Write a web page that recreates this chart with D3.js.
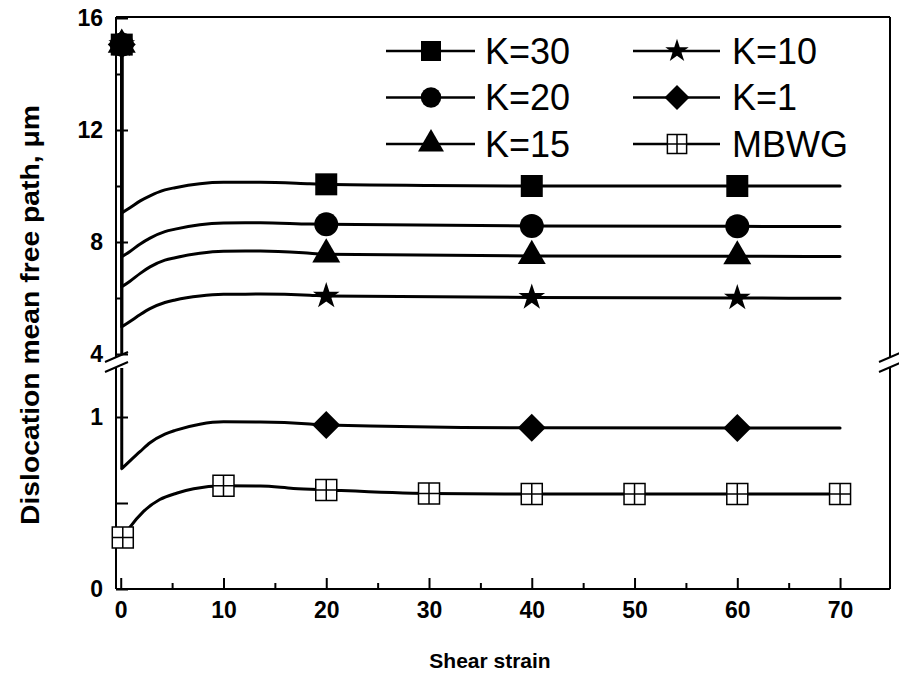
<!DOCTYPE html>
<html>
<head>
<meta charset="utf-8">
<script src="https://cdn.jsdelivr.net/npm/d3@7"></script>
<style>
  body { margin: 0; background: #fff; }
  svg { display: block; font-family: Arial, "Liberation Sans", sans-serif; }
  .tick text { font-weight: bold; font-size: 23px; fill: #000; }
  .tick line { stroke: #000; stroke-width: 2; }
</style>
</head>
<body>
<script>
// ---- data ----
const xMajor = [0, 10, 20, 30, 40, 50, 60, 70];
const xMinor = [5, 15, 25, 35, 45, 55, 65];
const yUpperMajor = [4, 8, 12, 16];
const yUpperMinor = [6, 10, 14];
const yLowerMajor = [0, 1];
const yLowerMinor = [0.5];

const seriesNames = ["K=30", "K=20", "K=15", "K=10", "K=1", "MBWG"];
const seriesSymbols = ["square", "circle", "triangle", "star", "diamond", "box"];

const k30Line = [[0.1, 15.05], [0.1, 9.04], [0.9, 9.22], [1.9, 9.47], [2.85, 9.65], [4.3, 9.86], [5.3, 9.94], [7.7, 10.08], [10, 10.13], [13.6, 10.13], [18.4, 10.08], [20, 10.06], [30, 10.02], [40, 10.0], [60, 10.0], [70, 10.0]];
const k20Line = [[0.1, 15.05], [0.1, 7.47], [0.9, 7.66], [1.9, 7.93], [2.85, 8.14], [4.3, 8.37], [5.3, 8.46], [7.7, 8.62], [10, 8.68], [13.6, 8.69], [18.4, 8.64], [20, 8.63], [40, 8.57], [60, 8.56], [70, 8.55]];
const k15Line = [[0.1, 15.05], [0.1, 6.40], [0.9, 6.60], [1.9, 6.88], [2.85, 7.11], [4.3, 7.35], [5.3, 7.44], [7.7, 7.60], [10, 7.67], [13.6, 7.68], [18.4, 7.60], [20, 7.56], [40, 7.50], [60, 7.49], [70, 7.48]];
const k10Line = [[0.1, 15.05], [0.1, 4.97], [0.9, 5.16], [1.9, 5.41], [2.85, 5.62], [4.3, 5.84], [5.3, 5.93], [7.7, 6.07], [10, 6.13], [13.6, 6.14], [18.4, 6.10], [20, 6.07], [40, 6.02], [60, 6.0], [70, 5.99]];
const k1Line = [[0.1, 15.05], [0.1, 0.70], [0.9, 0.745], [1.9, 0.80], [2.85, 0.85], [4.3, 0.90], [5.3, 0.922], [7.7, 0.958], [10, 0.972], [13.6, 0.971], [18.4, 0.96], [20, 0.953], [40, 0.937], [60, 0.936], [70, 0.936]];
const mbwgLine = [[0.2, 0.30], [0.9, 0.36], [2.2, 0.45], [3.8, 0.52], [5.5, 0.558], [7.1, 0.583], [10, 0.60], [13.6, 0.599], [16.8, 0.585], [20, 0.576], [30, 0.555], [40, 0.552], [50, 0.552], [60, 0.552], [70, 0.552]];

const k30Marks = [[0.1, 15.05], [20, 10.06], [40, 10.0], [60, 10.0]];
const k20Marks = [[0.1, 15.05], [20, 8.63], [40, 8.57], [60, 8.56]];
const k15Marks = [[0.1, 15.05], [20, 7.56], [40, 7.50], [60, 7.49]];
const k10Marks = [[0.1, 15.05], [20, 6.07], [40, 6.02], [60, 6.0]];
const k1Marks = [[0.1, 15.05], [20, 0.953], [40, 0.937], [60, 0.936]];
const mbwgMarks = [[0.2, 0.30], [10, 0.60], [20, 0.576], [30, 0.555], [40, 0.552], [50, 0.552], [60, 0.552], [70, 0.552]];

const lines = [k30Line, k20Line, k15Line, k10Line, k1Line, mbwgLine];
const marks = [k30Marks, k20Marks, k15Marks, k10Marks, k1Marks, mbwgMarks];

// ---- layout ----
const W = 899, H = 679;
const L = 116, R = 890;
const breakHi = 357, breakLo = 367;

const x = d3.scaleLinear().domain([-0.46, 74.86]).range([L, R]);
const yUp = d3.scaleLinear().domain([4, 16]).range([354, 18]);
const yLo = d3.scaleLinear().domain([0, 1]).range([589, 417]);
const TOP = yUp(16) - 1, BOT = yLo(0);
const yOf = v => v >= 4 ? yUp(v) : yLo(v);

// box with a cross inside (MBWG marker)
const symbolBoxCross = {
  draw(ctx, size) {
    const s = Math.sqrt(size) / 2;
    ctx.moveTo(-s, -s); ctx.lineTo(s, -s); ctx.lineTo(s, s); ctx.lineTo(-s, s); ctx.closePath();
    ctx.moveTo(0, -s); ctx.lineTo(0, s);
    ctx.moveTo(-s, 0); ctx.lineTo(s, 0);
  }
};
const symType = {square: d3.symbolSquare, circle: d3.symbolCircle, triangle: d3.symbolTriangle,
                 star: d3.symbolStar, diamond: d3.symbolSquare, box: symbolBoxCross};
const symSize = {square: 484, circle: 452, triangle: 339, star: 220, diamond: 392, box: 441};
const legSize = {square: 400, circle: 330, triangle: 292, star: 170, diamond: 313, box: 370};

function drawSymbol(g, kind, cx, cy, size) {
  const p = g.append("path")
    .attr("d", d3.symbol().type(symType[kind]).size(size)())
    .attr("transform", `translate(${cx},${cy})` + (kind === "diamond" ? " rotate(45)" : ""));
  if (kind === "box") p.attr("fill", "#fff").attr("stroke", "#000").attr("stroke-width", 1.5);
  else p.attr("fill", "#000");
}

const svg = d3.select("body").append("svg")
  .attr("width", W).attr("height", H);

const defs = svg.append("defs");
defs.append("clipPath").attr("id", "clipUp").append("rect")
  .attr("x", 0).attr("y", 0).attr("width", W).attr("height", yUp(4));
defs.append("clipPath").attr("id", "clipLo").append("rect")
  .attr("x", 0).attr("y", breakLo + 1).attr("width", W).attr("height", H - breakLo);

// ---- frame with broken axes ----
const frame = svg.append("g").attr("stroke", "#000").attr("stroke-width", 2).attr("fill", "none");
frame.append("line").attr("x1", L).attr("x2", R).attr("y1", TOP).attr("y2", TOP);
frame.append("line").attr("x1", L).attr("x2", R).attr("y1", BOT).attr("y2", BOT);
[L, R].forEach(ax => {
  frame.append("line").attr("x1", ax).attr("x2", ax).attr("y1", TOP).attr("y2", breakHi);
  frame.append("line").attr("x1", ax).attr("x2", ax).attr("y1", breakLo).attr("y2", BOT);
  [breakHi, breakLo].forEach(by => {
    frame.append("line").attr("x1", ax - 11).attr("y1", by + 5).attr("x2", ax + 12).attr("y2", by - 5);
  });
});

// ---- axes ----
svg.append("g").attr("transform", `translate(0,${BOT})`)
  .call(d3.axisBottom(x).tickValues(xMajor).tickSize(-11).tickPadding(13).tickFormat(d3.format("d")))
  .call(g => g.select(".domain").remove());
svg.append("g").attr("transform", `translate(0,${BOT})`)
  .call(d3.axisBottom(x).tickValues(xMinor).tickSize(-6).tickFormat(""))
  .call(g => g.select(".domain").remove());

svg.append("g").attr("transform", `translate(${L},0)`)
  .call(d3.axisLeft(yUp).tickValues(yUpperMajor).tickSize(-12).tickPadding(13).tickFormat(d3.format("d")))
  .call(g => g.select(".domain").remove());
svg.append("g").attr("transform", `translate(${L},0)`)
  .call(d3.axisLeft(yUp).tickValues(yUpperMinor).tickSize(-6).tickFormat(""))
  .call(g => g.select(".domain").remove());
svg.append("g").attr("transform", `translate(${L},0)`)
  .call(d3.axisLeft(yLo).tickValues(yLowerMajor).tickSize(-12).tickPadding(13).tickFormat(d3.format("d")))
  .call(g => g.select(".domain").remove());
svg.append("g").attr("transform", `translate(${L},0)`)
  .call(d3.axisLeft(yLo).tickValues(yLowerMinor).tickSize(-12).tickFormat(""))
  .call(g => g.select(".domain").remove());

// ---- axis titles ----
svg.append("text")
  .attr("x", 490).attr("y", 668)
  .attr("text-anchor", "middle")
  .attr("font-weight", "bold").attr("font-size", 21)
  .text("Shear strain");
svg.append("text")
  .attr("transform", "translate(39,315) rotate(-90)")
  .attr("text-anchor", "middle")
  .attr("font-weight", "bold").attr("font-size", 25)
  .attr("textLength", 420).attr("lengthAdjust", "spacingAndGlyphs")
  .text("Dislocation mean free path, μm");

// ---- curves (drawn in both panels, clipped) ----
function pathFor(pts, yS) {
  const straight = d3.line().x(d => x(d[0])).y(d => yS(d[1]));
  const smooth = d3.line().x(d => x(d[0])).y(d => yS(d[1])).curve(d3.curveMonotoneX);
  if (pts[0][0] === pts[1][0]) return straight(pts.slice(0, 2)) + smooth(pts.slice(1));
  return smooth(pts);
}
[["clipUp", yUp], ["clipLo", yLo]].forEach(([clip, yS]) => {
  const g = svg.append("g").attr("clip-path", `url(#${clip})`);
  lines.forEach(pts => {
    g.append("path")
      .attr("d", pathFor(pts, yS))
      .attr("fill", "none").attr("stroke", "#000")
      .attr("stroke-width", 3).attr("stroke-linecap", "round").attr("stroke-linejoin", "round");
  });
});

// ---- markers ----
const mg = svg.append("g");
marks.forEach((pts, i) => {
  pts.forEach(d => drawSymbol(mg, seriesSymbols[i], x(d[0]), yOf(d[1]), symSize[seriesSymbols[i]]));
});

// ---- legend ----
const legCols = [{x1: 386, x2: 475, mx: 431, tx: 485}, {x1: 633, x2: 720, mx: 677, tx: 732}];
const legRows = [51, 97.5, 144];
const lg = svg.append("g");
seriesNames.forEach((name, i) => {
  const c = legCols[Math.floor(i / 3)], ry = legRows[i % 3];
  lg.append("line").attr("x1", c.x1).attr("x2", c.x2).attr("y1", ry).attr("y2", ry)
    .attr("stroke", "#000").attr("stroke-width", 2.7);
  drawSymbol(lg, seriesSymbols[i], c.mx, ry, legSize[seriesSymbols[i]]);
  lg.append("text").attr("x", c.tx).attr("y", ry + 12.6)
    .attr("font-size", 36).attr("fill", "#000").text(name);
});
</script>
</body>
</html>
